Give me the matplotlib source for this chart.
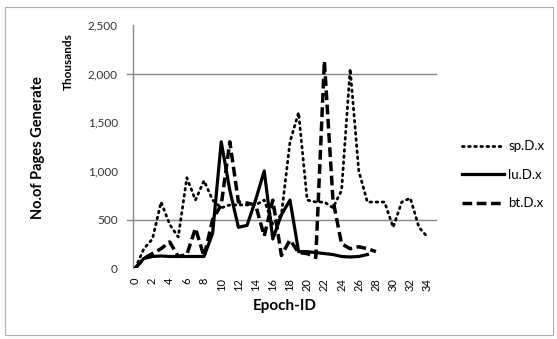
import matplotlib
matplotlib.use("Agg")
import matplotlib.pyplot as plt
from matplotlib.patches import Rectangle

plt.rcParams['font.family'] = ['Lato', 'DejaVu Sans']

# values in thousands, one per epoch
epochs_sp = list(range(0, 35))
sp = [0, 200, 300, 680, 450, 320, 930, 700, 900, 700,
      620, 650, 650, 650, 650, 700, 450, 550, 1300, 1600,
      700, 680, 680, 620, 800, 2050, 1000, 680, 680, 680,
      420, 680, 720, 420, 320]

epochs_lu = list(range(0, 28))
lu = [0, 100, 120, 125, 120, 120, 120, 120, 120, 360,
      1300, 800, 420, 440, 700, 1000, 300, 550, 700, 170,
      170, 160, 150, 140, 120, 115, 120, 140]

epochs_bt = list(range(0, 29))
bt = [0, 100, 150, 200, 270, 120, 140, 410, 120, 500,
      650, 1300, 680, 670, 650, 330, 700, 130, 290, 160,
      150, 110, 2130, 700, 250, 200, 220, 200, 170]

series_names = ['sp.D.x', 'lu.D.x', 'bt.D.x']
grid_values = [500, 2000]
y_ticks = [0, 500, 1000, 1500, 2000, 2500]
x_ticks = list(range(0, 35, 2))

fig = plt.figure(figsize=(5.57, 3.39), dpi=100)
ax = fig.add_axes([0.239, 0.209, 0.544, 0.717])

# outer chart border like the spreadsheet chart area
fig.patches.append(Rectangle((0.009, 0.012), 0.983, 0.968, transform=fig.transFigure,
                             fill=False, edgecolor='#b0b0b0', linewidth=0.8))

for g in grid_values:
    ax.axhline(g, xmin=-0.02, xmax=1, color='#868686', linewidth=1.0, clip_on=False, zorder=1)

ax.plot(epochs_sp, sp, color='black', linestyle=(0, (0.6, 1.6)), linewidth=2.0,
        dash_capstyle='round', label=series_names[0], zorder=3)
ax.plot(epochs_lu, lu, color='black', linestyle='-', linewidth=2.3,
        label=series_names[1], zorder=3)
ax.plot(epochs_bt, bt, color='black', linestyle=(0, (2.8, 1.3)), linewidth=2.5,
        label=series_names[2], zorder=3)

ax.set_xlim(-0.25, 35)
ax.set_ylim(0, 2500)

for side in ['top', 'right', 'bottom']:
    ax.spines[side].set_visible(False)
ax.spines['left'].set_color('#868686')
ax.spines['left'].set_linewidth(1.0)

ax.set_yticks(y_ticks)
ax.set_yticklabels([f'{v:,}' for v in y_ticks], fontsize=8.5, color='#333333')
ax.set_xticks(x_ticks)
ax.set_xticklabels([str(v) for v in x_ticks], rotation=90, fontsize=8)
ax.tick_params(axis='y', length=0, pad=11)
ax.tick_params(axis='x', length=0, pad=7)

ax.set_xlabel('Epoch-ID', fontsize=11, fontweight='bold', labelpad=6)
fig.text(0.068, 0.566, 'No.of Pages Generate', rotation=90, ha='center', va='center',
         fontsize=10.5, fontweight='bold')
fig.text(0.122, 0.817, 'Thousands', rotation=90, ha='center', va='center',
         fontsize=8.5, fontweight='bold')

leg = ax.legend(loc='center left', bbox_to_anchor=(0.808, 0.484),
                bbox_transform=fig.transFigure, frameon=False, fontsize=9.5,
                handlelength=3.2, handletextpad=0.3, labelspacing=1.25)

fig.savefig('out.png', dpi=100)
